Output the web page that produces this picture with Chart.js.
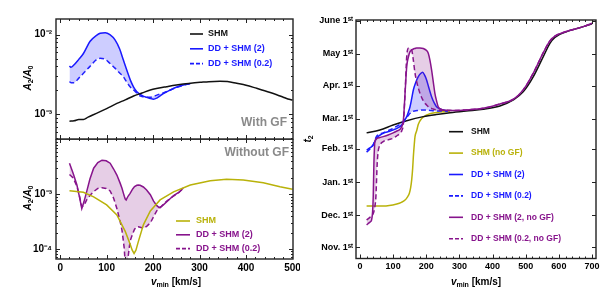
<!DOCTYPE html>
<html>
<head>
<meta charset="utf-8">
<script src="https://cdn.jsdelivr.net/npm/chart.js@4.4.1/dist/chart.umd.min.js"></script>
<style>
  body { margin: 0; background: #fff; }
  .box { position: absolute; }
</style>
</head>
<body>
<div class="box" style="left:0;top:0;width:300px;height:140px"><canvas id="gf"></canvas></div>
<div class="box" style="left:0;top:139px;width:300px;height:153px"><canvas id="nogf"></canvas></div>
<div class="box" style="left:300px;top:0;width:307px;height:292px"><canvas id="t2"></canvas></div>
<script>
// values of A2/A0 are written in units of 1e-3
const milli = 1e-3;

// top left: with GF
const gfV = [20, 30, 40, 50, 60, 70, 86, 100, 122, 140, 158, 176, 194, 210, 229, 250, 265, 285, 301, 320, 344, 360, 380, 400, 423, 440, 452, 466, 480, 490, 500];
const gfShm = [0.82, 0.83, 0.86, 0.86, 0.92, 0.98, 1.08, 1.18, 1.37, 1.52, 1.70, 1.85, 2.02, 2.12, 2.22, 2.33, 2.40, 2.48, 2.52, 2.57, 2.60, 2.58, 2.45, 2.32, 2.12, 1.98, 1.88, 1.76, 1.64, 1.56, 1.51];
const gfDdV = [20, 23, 30, 40, 50, 64, 79, 86, 97, 107, 118, 128, 136, 144, 151, 158, 165, 172, 180, 186, 194, 201, 208, 215, 222, 237, 251, 265, 280];
const gfDd2 = [4.05, 3.9, 4.2, 4.9, 5.8, 8.2, 9.9, 10.4, 10.6, 10.0, 8.6, 6.6, 4.8, 3.5, 2.69, 2.2, 1.92, 1.78, 1.68, 1.64, 1.58, 1.55, 1.6, 1.7, 1.82, 2.02, 2.2, 2.33, 2.44];
const gfDd02 = [2.57, 2.5, 2.5, 2.85, 3.27, 4.0, 4.9, 5.05, 4.9, 4.37, 3.8, 3.3, 2.97, 2.5, 2.2, 2.02, 1.85, 1.7, 1.66, 1.64, 1.64, 1.68, 1.74, 1.8, 1.86, 2.02, 2.18, 2.32, 2.44];

// bottom left: without GF
const noV = [20, 50, 72, 100, 122, 140, 150, 155, 159, 163, 168, 179, 194, 215, 244, 280, 323, 358, 394, 437, 473, 500];
const noShm = [1.16, 1.09, 0.90, 0.64, 0.42, 0.21, 0.126, 0.095, 0.083, 0.095, 0.135, 0.277, 0.495, 0.79, 1.11, 1.48, 1.77, 1.88, 1.83, 1.63, 1.38, 1.24];
const noDdV = [20, 28, 36, 42, 46.5, 51, 57, 64, 72, 81, 90, 99, 107.5, 115, 122, 129, 133, 136, 138, 140, 142, 146, 150.5, 156, 160, 165, 168, 172, 179, 186, 194, 201, 208, 213, 218, 222, 230, 244, 255, 265];
const noDd2 = [3.7, 2.4, 1.48, 0.85, 0.55, 0.72, 1.12, 1.9, 3.0, 3.8, 4.2, 4.1, 3.7, 2.9, 2.25, 1.6, 1.29, 1.05, 0.92, 0.82, 0.79, 0.92, 1.04, 1.25, 1.38, 1.46, 1.48, 1.46, 1.36, 1.2, 0.98, 0.75, 0.62, 0.57, 0.6, 0.64, 0.74, 0.95, 1.08, 1.30];
const noDd02 = [2.3, 2.0, 1.4, 0.9, 0.59, 0.62, 0.79, 0.95, 1.12, 1.28, 1.32, 1.28, 1.15, 0.85, 0.55, 0.32, 0.22, 0.14, 0.10, 0.05, 0.03, 0.07, 0.14, 0.19, 0.23, 0.255, 0.255, 0.25, 0.24, 0.26, 0.3, 0.39, 0.5, 0.55, 0.6, 0.66, 0.76, 0.93, 1.07, 1.29];

// right: t2 in days after Nov. 1st
const t2V = [20, 60, 100, 141, 191, 230, 272, 320, 372, 422, 463, 493, 523, 553, 573, 588, 624, 674, 700];
const t2Shm = [107, 109.7, 114.4, 118.4, 122.2, 124.2, 125.9, 127.5, 129.1, 132.2, 137.8, 145.6, 159.6, 178.3, 190.8, 196.4, 201.7, 206.4, 209];
const t2NoGfV = [20, 70, 111, 125, 136, 143, 149, 153, 156, 159, 161, 164, 166, 171, 176, 186, 200, 211, 230, 251, 272];
const t2NoGf = [38.6, 38.6, 40.5, 42, 44.2, 47, 50.5, 56, 63, 74, 84.8, 97, 103.5, 109, 115, 120.5, 123.5, 125, 126, 126.8, 127];
const t2BlueV = [20, 30, 40, 50, 70, 90, 110, 126, 135, 141, 146, 151, 156, 161, 168, 176, 183, 189, 195, 201, 208, 216, 224, 231, 241, 251, 265];
const t2Dd2 = [91, 93, 95.7, 102, 106.6, 108.5, 111, 114.4, 119, 122.2, 126.5, 131.5, 139, 147.1, 154, 159.6, 162.5, 163.7, 161, 156.5, 149, 140.9, 135, 131.5, 129.5, 128.4, 127.5];
const t2Dd02 = [89, 92, 96, 103.6, 107, 109.7, 113, 116.5, 119.5, 121.5, 123.5, 125.3, 126.5, 127.3, 127.8, 128, 128.3, 128.4, 128.4, 128.4, 128.2, 127.9, 127.6, 127.5, 127.5, 127.5, 127.5];
const t2PurpleV = [20, 30, 35, 38, 40, 42, 44, 45, 48, 52, 55, 58, 70, 85, 100, 110, 121, 126, 131, 136, 141, 146, 151, 156, 161, 166, 171, 181, 191, 201, 206, 211, 216, 221, 226, 231, 236, 246, 260, 280, 320, 372, 422, 463, 493, 523, 553, 573, 588, 624, 674, 700];
const t2Dd2No = [20.9, 23.5, 25.5, 33, 47.3, 78.6, 95, 99, 101, 102, 102.3, 102.5, 103.5, 105, 107, 108.5, 110.4, 113, 119.1, 144, 169, 178, 183, 184.5, 185.5, 186, 186.5, 186.5, 186, 184, 181.5, 175, 165.9, 155, 144, 137, 131.5, 129, 128.2, 128, 128.5, 130, 134, 138.5, 147.5, 163, 182, 193, 197.5, 202, 206.4, 209.5];
const t2Dd02No = [25.5, 28, 29.5, 30.2, 31.5, 33.5, 36, 38, 47.3, 78.6, 90, 94.1, 98.8, 100.5, 102, 104, 106.6, 109, 116, 144, 178.3, 186.2, 186, 184.6, 175, 162.8, 155, 144, 137, 133.1, 131.5, 130.5, 129.8, 129.3, 128.8, 128.4, 128.3, 128.2, 128.2, 128, 128.5, 130, 134, 138.5, 147.5, 163, 182, 193, 197.5, 202, 206.4, 209.5];

// ticks
const leftXTicks = [0, 100, 200, 300, 400, 500];
const rightXTicks = [0, 100, 200, 300, 400, 500, 600, 700];
const gfYTicks = [1e-3, 1e-2];
const gfYLabels = ['10\u207B\u00B3', '10\u207B\u00B2'];
const noYTicks = [1e-4, 1e-3];
const noYLabels = ['10\u207B\u2074', '10\u207B\u00B3'];
const monthTicks = [0, 30, 61, 92, 120, 151, 181, 212];
const monthLabels = ['Nov. 1\u02E2\u1D57', 'Dec. 1\u02E2\u1D57', 'Jan. 1\u02E2\u1D57', 'Feb. 1\u02E2\u1D57', 'Mar. 1\u02E2\u1D57', 'Apr. 1\u02E2\u1D57', 'May 1\u02E2\u1D57', 'June 1\u02E2\u1D57'];

const FONT = 'Liberation Sans';
const BLACK = '#111';
const BLUE = 'rgb(25,25,255)';
const BLUE_FILL = 'rgba(90,90,255,0.3)';
const PURPLE = 'rgb(135,20,140)';
const PURPLE_FILL = 'rgba(140,30,140,0.22)';
const YELLOW = 'rgb(185,178,10)';

Chart.defaults.font.family = FONT;
Chart.defaults.font.weight = 'bold';
Chart.defaults.color = '#000';

const pts = (xs, ys, k = 1) => xs.map((x, i) => ({ x: x, y: ys[i] * k }));

function minorRange(from, to, step) {
  const out = [];
  for (let v = from; v <= to; v += step) out.push(v);
  return out;
}
function logMinors(decades) {
  const out = [];
  decades.forEach(d => { for (let m = 2; m <= 9; m++) out.push(m * d); });
  return out;
}

// box frame with inward ticks on all four sides
function frame(cfg) {
  return {
    id: 'frame',
    afterDraw(chart) {
      const { ctx, chartArea: a } = chart;
      const xs = chart.scales.x, ys = chart.scales.y;
      const seg = (x1, y1, x2, y2) => { ctx.beginPath(); ctx.moveTo(x1, y1); ctx.lineTo(x2, y2); ctx.stroke(); };
      ctx.save();
      ctx.strokeStyle = '#222';
      ctx.lineWidth = 1;
      const xMarks = (vals, len) => vals.forEach(v => {
        const p = Math.round(xs.getPixelForValue(v)) + 0.5;
        if (p < a.left || p > a.right) return;
        seg(p, a.bottom, p, a.bottom - len);
        seg(p, a.top, p, a.top + len);
      });
      const yMarks = (vals, len) => vals.forEach(v => {
        const p = Math.round(ys.getPixelForValue(v)) + 0.5;
        if (p < a.top || p > a.bottom) return;
        seg(a.left, p, a.left + len, p);
        seg(a.right, p, a.right - len, p);
      });
      xMarks(cfg.xMajor, 4); xMarks(cfg.xMinor, 2);
      yMarks(cfg.yMajor, 4); yMarks(cfg.yMinor || [], 2);
      ctx.lineWidth = 1.4;
      ctx.strokeRect(a.left, a.top, a.right - a.left, a.bottom - a.top);
      ctx.restore();
    }
  };
}

// legend drawn inside the plot box
function keys(cfg) {
  return {
    id: 'keys',
    afterDraw(chart) {
      const ctx = chart.ctx;
      cfg.rows.forEach((i, k) => {
        const ds = chart.data.datasets[i];
        const y = cfg.y + k * cfg.gap;
        ctx.save();
        ctx.strokeStyle = ds.borderColor;
        ctx.lineWidth = 1.6;
        ctx.setLineDash(ds.borderDash ? [4, 2] : []);
        ctx.beginPath(); ctx.moveTo(cfg.x0, y); ctx.lineTo(cfg.x1, y); ctx.stroke();
        ctx.fillStyle = ds.borderColor;
        ctx.font = cfg.font;
        ctx.textBaseline = 'middle';
        ctx.textAlign = 'left';
        ctx.fillText(ds.label, cfg.tx, y);
        ctx.restore();
      });
    }
  };
}

// free text: axis titles with sub-scripts, panel notes
function notes(items) {
  return {
    id: 'notes',
    afterDraw(chart) {
      const ctx = chart.ctx;
      items.forEach(n => {
        ctx.save();
        ctx.translate(n.x, n.y);
        if (n.rot) ctx.rotate(n.rot);
        ctx.fillStyle = n.color || '#000';
        ctx.textBaseline = 'middle';
        ctx.textAlign = 'left';
        let w = 0;
        n.parts.forEach(p => { ctx.font = p.f; w += ctx.measureText(p.t).width; });
        let cx = n.align === 'right' ? -w : -w / 2;
        n.parts.forEach(p => {
          ctx.font = p.f;
          ctx.fillText(p.t, cx, p.dy || 0);
          cx += ctx.measureText(p.t).width;
        });
        ctx.restore();
      });
    }
  };
}

const B10 = `bold 10px ${FONT}`;
const I10 = `italic bold 10px ${FONT}`;
const S7 = `bold 7px ${FONT}`;
const ampTitle = [{ t: 'A', f: I10 }, { t: '2', f: S7, dy: 3 }, { t: '/', f: I10 }, { t: 'A', f: I10 }, { t: '0', f: S7, dy: 3 }];
const vTitle = [{ t: 'v', f: I10 }, { t: 'min', f: S7, dy: 3 }, { t: ' [km/s]', f: B10 }];

function line(label, data, color, dashed, extra) {
  return Object.assign({
    label: label,
    data: data,
    borderColor: color,
    borderWidth: 1.5,
    borderDash: dashed ? [5, 3] : undefined,
    pointRadius: 0,
    fill: false,
    cubicInterpolationMode: 'monotone'
  }, extra || {});
}

// fixed axis sizes, and no extra room for labels sticking out of the box
function noPad(s) {
  s.paddingTop = 0; s.paddingBottom = 0; s.paddingLeft = 0; s.paddingRight = 0;
}
function yAxisBox(w) {
  return function (s) { s.width = w; noPad(s); };
}
function xAxisBox(h) {
  return function (s) { s.height = h; noPad(s); };
}

// ---------- top left ----------
new Chart(document.getElementById('gf'), {
  type: 'line',
  data: {
    datasets: [
      line('SHM', pts(gfV, gfShm, milli), BLACK, false),
      line('DD + SHM (2)', pts(gfDdV, gfDd2, milli), BLUE, false, { fill: '+1', backgroundColor: BLUE_FILL }),
      line('DD + SHM (0.2)', pts(gfDdV, gfDd02, milli), BLUE, true)
    ]
  },
  options: {
    responsive: true,
    maintainAspectRatio: false,
    animation: false,
    layout: { padding: { top: 19, right: 7, bottom: 1, left: 0 } },
    plugins: { legend: { display: false }, tooltip: { enabled: false } },
    scales: {
      x: { type: 'linear', display: false, min: -9, max: 501, afterFit: noPad },
      y: {
        type: 'logarithmic',
        min: Math.pow(10, -3.31),
        max: Math.pow(10, -1.803),
        afterFit: yAxisBox(56),
        afterBuildTicks: s => { s.ticks = gfYTicks.map(v => ({ value: v })); },
        ticks: { autoSkip: false, padding: 4, font: { size: 10, weight: 'bold' }, callback: (v, i) => gfYLabels[i] },
        grid: { display: false, drawTicks: false },
        border: { display: false }
      }
    }
  },
  plugins: [
    frame({ xMajor: leftXTicks, xMinor: minorRange(0, 500, 20), yMajor: gfYTicks, yMinor: logMinors([1e-4, 1e-3, 1e-2]) }),
    keys({ rows: [0, 1, 2], x0: 190, x1: 203, tx: 208, y: 34, gap: 14.8, font: `bold 9px ${FONT}` }),
    notes([
      { parts: ampTitle, x: 28, y: 78, rot: -Math.PI / 2 },
      { parts: [{ t: 'With GF', f: `bold 12px ${FONT}` }], x: 287, y: 123, align: 'right', color: '#8a8a8a' }
    ])
  ]
});

// ---------- bottom left ----------
new Chart(document.getElementById('nogf'), {
  type: 'line',
  data: {
    datasets: [
      line('SHM', pts(noV, noShm, milli), YELLOW, false, { cubicInterpolationMode: 'default', tension: 0 }),
      line('DD + SHM (2)', pts(noDdV, noDd2, milli), PURPLE, false, { fill: '+1', backgroundColor: PURPLE_FILL, cubicInterpolationMode: 'default', tension: 0 }),
      line('DD + SHM (0.2)', pts(noDdV, noDd02, milli), PURPLE, true, { cubicInterpolationMode: 'default', tension: 0 })
    ]
  },
  options: {
    responsive: true,
    maintainAspectRatio: false,
    animation: false,
    layout: { padding: { top: 0, right: 7, bottom: 0, left: 0 } },
    plugins: { legend: { display: false }, tooltip: { enabled: false } },
    scales: {
      x: {
        type: 'linear', min: -9, max: 501,
        afterFit: xAxisBox(33),
        afterBuildTicks: s => { s.ticks = leftXTicks.map(v => ({ value: v })); },
        ticks: { autoSkip: false, maxRotation: 0, padding: 3, font: { size: 10, weight: 'bold' } },
        grid: { display: false, drawTicks: false },
        border: { display: false }
      },
      y: {
        type: 'logarithmic',
        min: Math.pow(10, -4.183),
        max: Math.pow(10, -1.989),
        afterFit: yAxisBox(56),
        afterBuildTicks: s => { s.ticks = noYTicks.map(v => ({ value: v })); },
        ticks: { autoSkip: false, padding: 4, font: { size: 10, weight: 'bold' }, callback: (v, i) => noYLabels[i] },
        grid: { display: false, drawTicks: false },
        border: { display: false }
      }
    }
  },
  plugins: [
    frame({ xMajor: leftXTicks, xMinor: minorRange(0, 500, 20), yMajor: noYTicks, yMinor: logMinors([1e-5, 1e-4, 1e-3]) }),
    keys({ rows: [0, 1, 2], x0: 176, x1: 190, tx: 196, y: 82, gap: 13.8, font: `bold 9px ${FONT}` }),
    notes([
      { parts: ampTitle, x: 28, y: 59, rot: -Math.PI / 2 },
      { parts: [{ t: 'Without GF', f: `bold 12px ${FONT}` }], x: 289, y: 14, align: 'right', color: '#8a8a8a' },
      { parts: vTitle, x: 176, y: 143 }
    ])
  ]
});

// ---------- right ----------
new Chart(document.getElementById('t2'), {
  type: 'line',
  data: {
    datasets: [
      line('SHM', pts(t2V, t2Shm), BLACK, false, { order: 2 }),
      line('SHM (no GF)', pts(t2NoGfV, t2NoGf), YELLOW, false, { order: 3 }),
      line('DD + SHM (2)', pts(t2BlueV, t2Dd2), BLUE, false, { fill: '+1', backgroundColor: BLUE_FILL, order: 1 }),
      line('DD + SHM (0.2)', pts(t2BlueV, t2Dd02), BLUE, true, { order: 1 }),
      line('DD + SHM (2, no GF)', pts(t2PurpleV, t2Dd2No), PURPLE, false, { fill: '+1', backgroundColor: PURPLE_FILL, order: 0 }),
      line('DD + SHM (0.2, no GF)', pts(t2PurpleV, t2Dd02No), PURPLE, true, { order: 0 })
    ]
  },
  options: {
    responsive: true,
    maintainAspectRatio: false,
    animation: false,
    layout: { padding: { top: 20, right: 11, bottom: 0, left: 0 } },
    plugins: { legend: { display: false }, tooltip: { enabled: false } },
    scales: {
      x: {
        type: 'linear', min: -12, max: 712,
        afterFit: xAxisBox(33.5),
        afterBuildTicks: s => { s.ticks = rightXTicks.map(v => ({ value: v })); },
        ticks: { autoSkip: false, maxRotation: 0, padding: 3, font: { size: 9, weight: 'bold' } },
        grid: { display: false, drawTicks: false },
        border: { display: false }
      },
      y: {
        type: 'linear',
        min: -10.5,
        max: 212.6,
        afterFit: yAxisBox(56),
        afterBuildTicks: s => { s.ticks = monthTicks.map(v => ({ value: v })); },
        ticks: { autoSkip: false, padding: 3, font: { size: 9, weight: 'bold' }, callback: (v, i) => monthLabels[i] },
        grid: { display: false, drawTicks: false },
        border: { display: false }
      }
    }
  },
  plugins: [
    frame({ xMajor: rightXTicks, xMinor: minorRange(0, 700, 20), yMajor: monthTicks }),
    keys({ rows: [0, 1, 2, 3, 4, 5], x0: 149, x1: 163, tx: 171, y: 131.7, gap: 21.4, font: `bold 8.5px ${FONT}` }),
    notes([
      { parts: [{ t: 't', f: I10 }, { t: '2', f: S7, dy: 3 }], x: 8, y: 139, rot: -Math.PI / 2 },
      { parts: vTitle, x: 176, y: 282 }
    ])
  ]
});
</script>
</body>
</html>
